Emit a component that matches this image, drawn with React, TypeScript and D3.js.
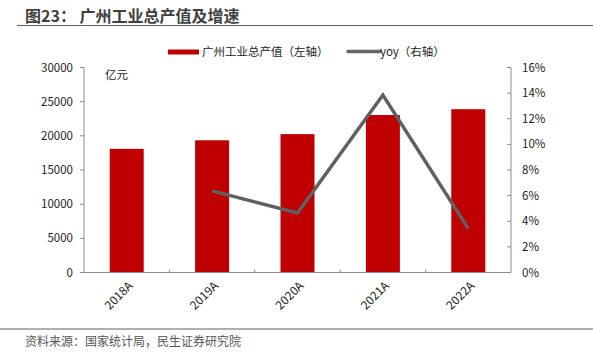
import React from 'react';
import * as d3 from 'd3';

// chart data
const years: string[] = ['2018A', '2019A', '2020A', '2021A', '2022A'];
const outputValues: number[] = [18100, 19350, 20250, 23050, 23900];
const yoyValues: (number | null)[] = [null, 6.37, 4.64, 13.85, 3.42];
const leftTicks: number[] = [0, 5000, 10000, 15000, 20000, 25000, 30000];
const rightTicks: number[] = [0, 2, 4, 6, 8, 10, 12, 14, 16];

const FONT = '"Microsoft YaHei", "Noto Sans CJK SC", sans-serif';
const W = 593;
const H = 360;
const margin = { top: 67.5, right: 82, bottom: 87.5, left: 84 };

const App = () => {
  const innerW = W - margin.left - margin.right;
  const innerH = H - margin.top - margin.bottom;

  const x = d3.scaleBand<string>().domain(years).range([0, innerW]);
  const yL = d3.scaleLinear().domain([0, 30000]).range([innerH, 0]);
  const yR = d3.scaleLinear().domain([0, 16]).range([innerH, 0]);
  const barW = 34;

  const line = d3
    .line<number | null>()
    .defined(d => d !== null)
    .x((_, i) => (x(years[i]) || 0) + x.bandwidth() / 2)
    .y(d => yR(d as number));

  const axisColor = '#8c8c8c';

  return (
    <svg
      width={W}
      height={H}
      style={{ position: 'absolute', left: 0, top: 0, background: '#fff' }}
      fontFamily={FONT}
    >
      {/* title */}
      <text x={25} y={22} fontSize={16} fontWeight="bold" fill="#404040">
        图23：  广州工业总产值及增速
      </text>
      <line x1={17} x2={W} y1={25.5} y2={25.5} stroke="#606060" strokeWidth={1.2} />

      {/* legend */}
      <rect x={168} y={49.5} width={31} height={5} fill="#C00000" />
      <text x={202} y={56} fontSize={11.5} fill="#222">广州工业总产值（左轴）</text>
      <line x1={348} x2={380} y1={51.5} y2={51.5} stroke="#666" strokeWidth={3.5} strokeLinecap="round" />
      <text x={380} y={56} fontSize={11.5} fill="#222">yoy（右轴）</text>

      <g transform={`translate(${margin.left},${margin.top})`}>
        {/* bars */}
        {outputValues.map((v, i) => (
          <rect
            key={years[i]}
            x={(x(years[i]) || 0) + x.bandwidth() / 2 - barW / 2}
            y={yL(v)}
            width={barW}
            height={innerH - yL(v)}
            fill="#C00000"
          />
        ))}

        {/* yoy line */}
        <path d={line(yoyValues) || ''} fill="none" stroke="#606060" strokeWidth={3.5} strokeLinejoin="miter" />

        {/* left axis */}
        <line x1={0} x2={0} y1={0} y2={innerH} stroke={axisColor} />
        {leftTicks.map(t => (
          <g key={t} transform={`translate(0,${yL(t)})`}>
            <line x1={-4} x2={0} stroke={axisColor} />
            <text x={-11} dy="0.35em" textAnchor="end" fontSize={11.5} fill="#222">
              {t}
            </text>
          </g>
        ))}
        <text x={21} y={11} fontSize={11.5} fill="#222">亿元</text>

        {/* right axis */}
        <line x1={innerW} x2={innerW} y1={0} y2={innerH} stroke={axisColor} />
        {rightTicks.map(t => (
          <g key={t} transform={`translate(${innerW},${yR(t)})`}>
            <line x1={-4} x2={0} stroke={axisColor} />
            <text x={11} dy="0.35em" textAnchor="start" fontSize={11.5} fill="#222">
              {t}%
            </text>
          </g>
        ))}

        {/* bottom axis */}
        <line x1={0} x2={innerW} y1={innerH} y2={innerH} stroke={axisColor} />
        {years.slice(1).map(yr => (
          <line
            key={yr}
            x1={x(yr) || 0}
            x2={x(yr) || 0}
            y1={innerH - 3}
            y2={innerH}
            stroke={axisColor}
          />
        ))}
        {years.map(yr => (
          <text
            key={yr}
            transform={`translate(${(x(yr) || 0) + x.bandwidth() / 2 + 7},${innerH + 14}) rotate(-45)`}
            textAnchor="end"
            fontSize={12}
            fill="#222"
          >
            {yr}
          </text>
        ))}
      </g>

      {/* footer */}
      <line x1={0} x2={W} y1={329} y2={329} stroke="#606060" strokeWidth={1.2} />
      <text x={25} y={346} fontSize={12} fill="#555">资料来源：国家统计局，民生证券研究院</text>
    </svg>
  );
};

export default App;
